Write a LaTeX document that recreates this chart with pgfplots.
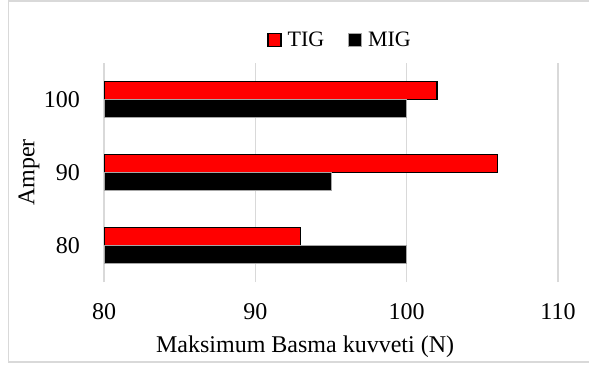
\documentclass[border=0pt]{standalone}
\usepackage{pgfplots}
\pgfplotsset{compat=1.18}
\usepackage{fontspec}
\setmainfont{Liberation Serif}
\definecolor{gridgray}{RGB}{217,217,217}
\definecolor{barred}{RGB}{255,0,0}
\begin{document}
\begin{tikzpicture}[x=1pt,y=1pt,font=\fontsize{24}{28}\selectfont]
\path[use as bounding box] (0,0) rectangle (589,367);
\draw[gridgray, line width=1.2pt] (600,366) -- (8.5,366) -- (8.5,5) -- (600,5);
\begin{axis}[
 at={(104pt,85pt)}, anchor=south west,
 scale only axis, width=454pt, height=219pt,
 xbar, bar width=2.5,
 xmin=80, xmax=110, ymin=75, ymax=105,
 xtick={80,90,100,110}, ytick={80,90,100},
 xmajorgrids, grid style={gridgray, line width=1.2pt},
 axis line style={draw=none}, major tick length=0pt,
 /pgf/number format/assume math mode=true,
 xticklabel style={inner sep=0pt, anchor=north, yshift=-21pt},
 yticklabel style={inner sep=0pt, anchor=east, xshift=-24pt},
 xlabel={Maksimum Basma kuvveti (N)},
 ylabel={Amper},
 xlabel style={at={(axis description cs:0.443,-0.324)}, anchor=base, inner sep=0pt},
 ylabel style={at={(axis description cs:-0.165,0.5)}, anchor=center, inner sep=0pt},
 legend columns=2,
 legend style={at={(axis description cs:0.52,1.105)}, anchor=center, draw=none, fill=none,
   font=\fontsize{22}{26}\selectfont,
   /tikz/every odd column/.append style={column sep=4pt},
   /tikz/every even column/.append style={column sep=22pt}},
 legend image code/.code={\draw[#1] (0pt,-6.5pt) rectangle (13pt,6.5pt);},
]
\addplot[fill=barred, draw=black, line width=1.2pt, bar shift=1.25] coordinates {(93,80) (106,90) (102,100)};
\addlegendentry{TIG}
\addplot[fill=black, draw=gray!70, line width=0.8pt, bar shift=-1.25] coordinates {(100,80) (95,90) (100,100)};
\addlegendentry{MIG}
\end{axis}
\end{tikzpicture}
\end{document}
